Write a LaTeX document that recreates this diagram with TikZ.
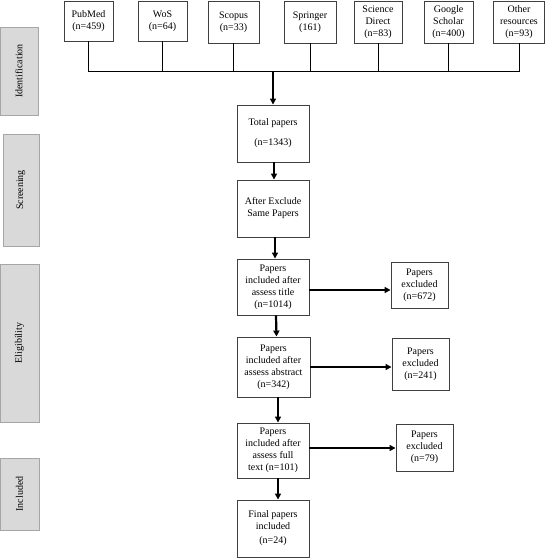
\documentclass[tikz,border=0pt]{standalone}
\usepackage{fontspec}
\setmainfont{Liberation Serif}
\usetikzlibrary{arrows.meta}
\definecolor{sidefill}{HTML}{D9D9D9}
\definecolor{sidedraw}{HTML}{A6A6A6}
\definecolor{boxdraw}{HTML}{404040}
\begin{document}
\begin{tikzpicture}[x=1pt,y=-1pt,
  box/.style={draw=boxdraw,line width=0.9pt,inner sep=0pt,align=center,
    font=\fontsize{10}{12}\selectfont},
  sidebox/.style={draw=sidedraw,fill=sidefill,line width=0.9pt,inner sep=0pt,
    rotate=90,font=\fontsize{10}{12}\selectfont},
  thin/.style={line width=1pt,black},
  arr/.style={line width=2.2pt,black,-{Triangle[length=6pt,width=6pt]}}]
\useasboundingbox (0,0) rectangle (545,559);
% side boxes
\node[sidebox,minimum width=88pt,minimum height=38pt] (sid) at (19,71) {Identification};
\node[sidebox,minimum width=112pt,minimum height=36pt] (ssc) at (21,190) {Screening};
\node[sidebox,minimum width=158pt,minimum height=39pt] (sel) at (19.5,343) {Eligibility};
\node[sidebox,minimum width=72pt,minimum height=39pt] (sin) at (19.5,494) {Included};
% top source boxes
\node[box,minimum width=49pt,minimum height=40pt] (pm) at (88.5,21) {PubMed\\(n=459)};
\node[box,minimum width=49pt,minimum height=40pt] (wos) at (162.5,21) {WoS\\(n=64)};
\node[box,minimum width=51pt,minimum height=42pt] (sco) at (233.5,22) {Scopus\\(n=33)};
\node[box,minimum width=52pt,minimum height=42pt] (spr) at (310,22) {Springer\\(161)};
\node[box,minimum width=48pt,minimum height=42pt] (sd) at (378,22) {Science\\Direct\\(n=83)};
\node[box,minimum width=49pt,minimum height=42pt] (gs) at (448.5,22) {Google\\Scholar\\(n=400)};
\node[box,minimum width=51pt,minimum height=42pt] (oth) at (519,22) {Other\\resources\\(n=93)};
% bus coordinates
\coordinate (bl) at (88.5,72);
\coordinate (br) at (519,72);
\coordinate (bt) at (273,72);
% main column
\node[box,minimum width=72pt,minimum height=57pt] (tot) at (273,133.5) {Total papers\\[8pt](n=1343)};
\node[box,minimum width=72pt,minimum height=57pt] (aft) at (273,208.5) {After Exclude\\Same Papers};
\node[box,minimum width=72pt,minimum height=56pt] (tit) at (273,287) {Papers\\included after\\assess title\\(n=1014)};
\node[box,minimum width=73pt,minimum height=60pt] (abs) at (273.5,367) {Papers\\included after\\assess abstract\\(n=342)};
\node[box,minimum width=72pt,minimum height=55pt] (ful) at (273,450.5) {Papers\\included after\\assess full\\text (n=101)};
\node[box,minimum width=72pt,minimum height=57pt] (fin) at (273,528.5) {Final papers\\included\\[2pt](n=24)};
% excluded boxes
\node[box,minimum width=57pt,minimum height=46pt] (ex1) at (419.5,285) {Papers\\excluded\\(n=672)};
\node[box,minimum width=57pt,minimum height=52pt] (ex2) at (420.5,364) {Papers\\excluded\\(n=241)};
\node[box,minimum width=57pt,minimum height=47pt] (ex3) at (424.5,447.5) {Papers\\excluded\\(n=79)};
% connectors
\foreach \n in {pm,wos,sco,spr,sd,gs,oth}
  \draw[thin] (\n.south) -- (\n.south |- bl);
\draw[thin] (bl) -- (br);
\draw[arr] (bt) -- (tot.north);
\draw[arr] ([xshift=1pt]tot.south) -- ([xshift=1pt]aft.north);
\draw[arr] ([xshift=2pt]aft.south) -- ([xshift=2pt]tit.north);
\draw[arr] ([xshift=3pt]tit.south) -- ([xshift=3pt]abs.north);
\draw[arr] ([xshift=4.5pt]abs.south) -- ([xshift=5pt]ful.north);
\draw[arr] ([xshift=5pt]ful.south) -- ([xshift=5pt]fin.north);
\draw[arr] ([yshift=-3pt]tit.east) -- ([yshift=-3pt]tit.east -| ex1.west);
\draw[arr] (abs.east) -- (abs.east -| ex2.west);
\draw[arr] ([yshift=2.5pt]ful.east) -- ([yshift=2.5pt]ful.east -| ex3.west);
\end{tikzpicture}
\end{document}
